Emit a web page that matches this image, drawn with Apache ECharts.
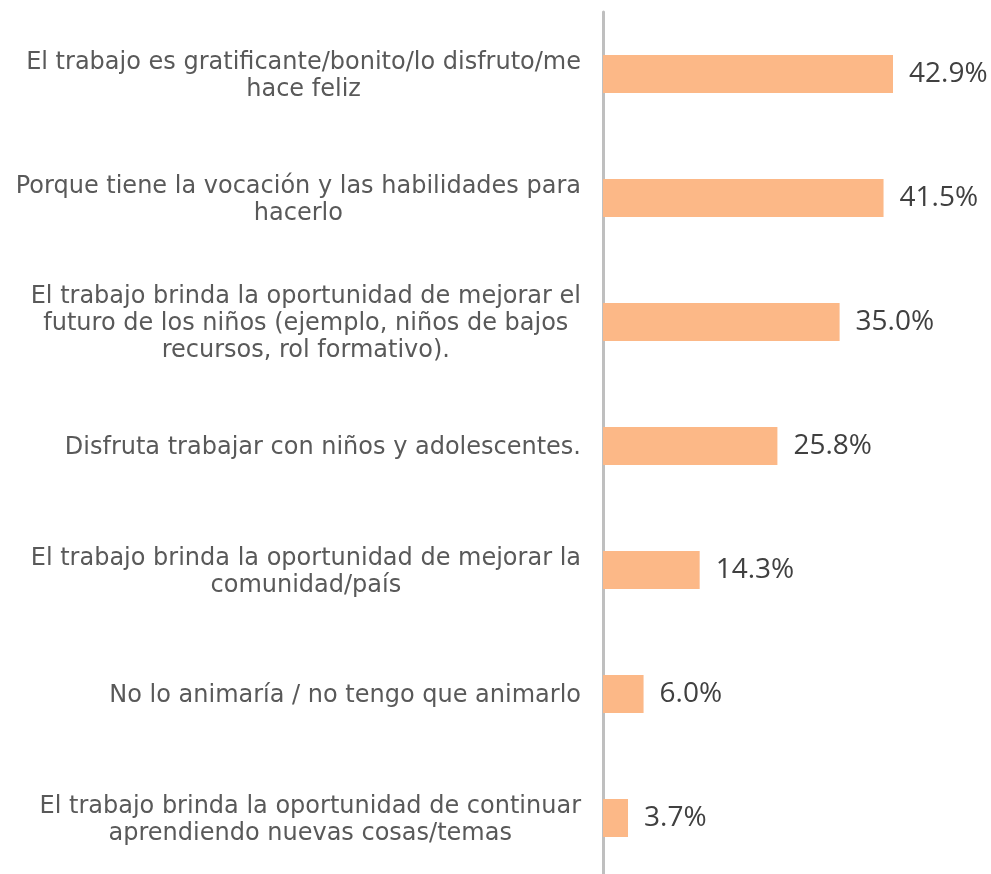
<!DOCTYPE html>
<html>
<head>
<meta charset="utf-8">
<script src="https://cdn.jsdelivr.net/npm/echarts@6/dist/echarts.min.js"></script>
<style>
  html, body { margin: 0; padding: 0; background: #fff; }
  #main { width: 991px; height: 874px; }
</style>
</head>
<body>
<div id="main"></div>
<script>
var categories = [
  'El trabajo es gratificante/bonito/lo disfruto/me\nhace feliz',
  'Porque tiene la vocación y las habilidades para\nhacerlo',
  'El trabajo brinda la oportunidad de mejorar el\nfuturo de los niños (ejemplo, niños de bajos\nrecursos, rol formativo).',
  'Disfruta trabajar con niños y adolescentes.',
  'El trabajo brinda la oportunidad de mejorar la\ncomunidad/país',
  'No lo animaría / no tengo que animarlo',
  'El trabajo brinda la oportunidad de continuar\naprendiendo nuevas cosas/temas'
];
var values = [42.9, 41.5, 35.0, 25.8, 14.3, 6.0, 3.7];

var myChart = echarts.init(document.getElementById('main'));
var option = {
  animation: false,
  backgroundColor: '#ffffff',
  grid: { left: 603, right: 50, top: 12, height: 868, outerBoundsMode: 'none', containLabel: false },
  xAxis: {
    type: 'value',
    min: 0,
    max: 50,
    show: false
  },
  yAxis: {
    type: 'category',
    inverse: true,
    data: categories,
    axisLine: { show: true, lineStyle: { color: '#bfbfbf', width: 3 } },
    axisTick: { show: false },
    axisLabel: {
      margin: 22,
      align: 'right',
      padding: [4, 0, 0, 0],
      fontFamily: 'DejaVu Sans',
      fontSize: 24,
      color: '#595959',
      lineHeight: 27,
      formatter: function (v) {
        return v.split('\n').map(function (l) { return '{c|' + l + '}'; }).join('\n');
      },
      rich: {
        c: { align: 'center', fontFamily: 'DejaVu Sans', fontSize: 24, color: '#595959', lineHeight: 27 }
      }
    }
  },
  series: [{
    type: 'bar',
    data: values,
    barWidth: 38,
    itemStyle: { color: '#fcb887' },
    label: {
      show: true,
      position: 'right',
      distance: 16,
      fontFamily: 'Open Sans',
      fontSize: 28,
      color: '#404040',
      formatter: function (p) { return p.value.toFixed(1) + '%'; }
    }
  }]
};
myChart.setOption(option);
</script>
</body>
</html>
